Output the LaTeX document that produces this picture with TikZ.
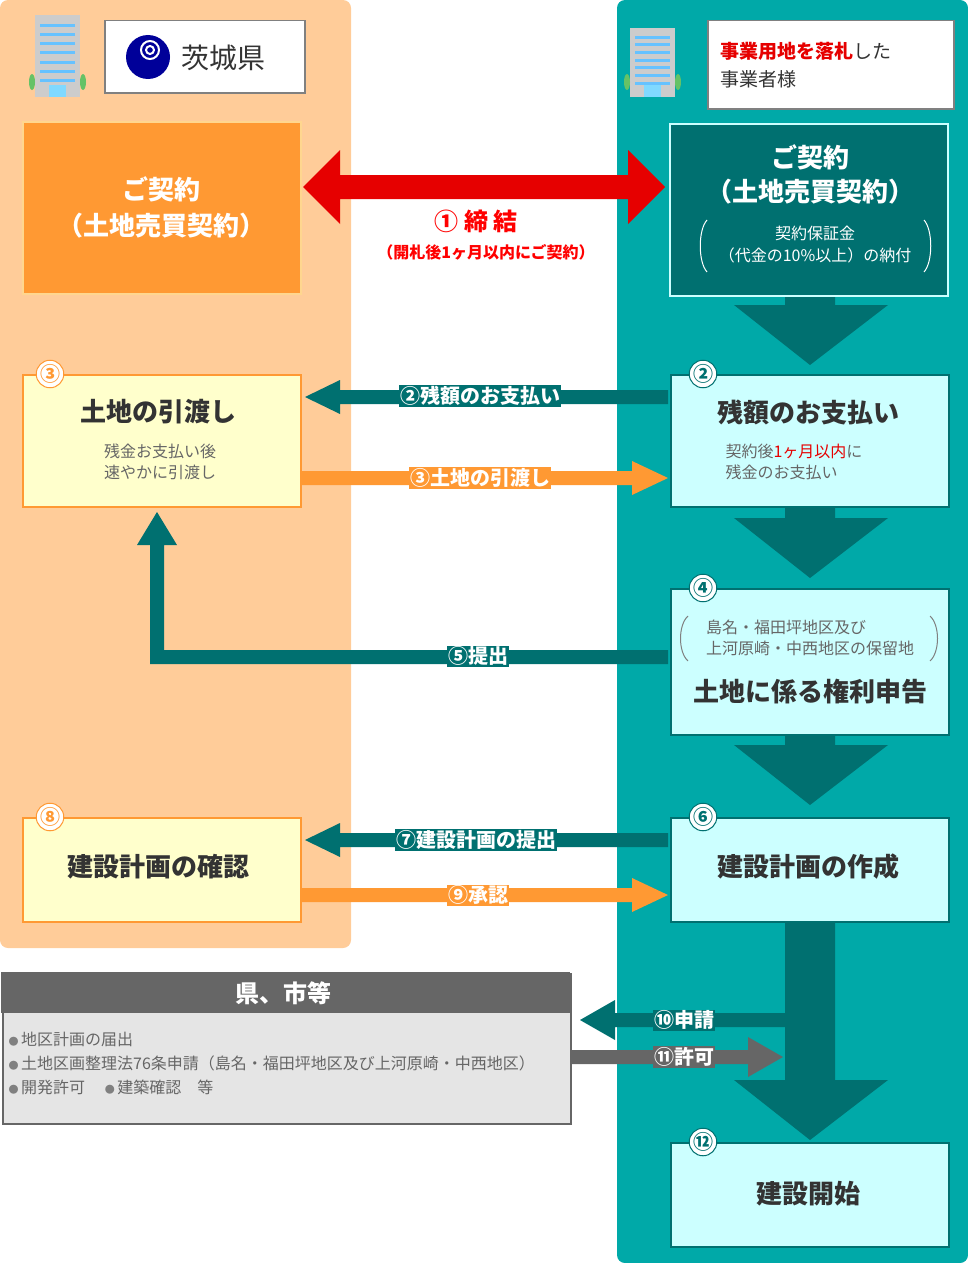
\documentclass[tikz,border=0pt]{standalone}
\usepackage{fontspec}
\setmainfont{Noto Sans CJK JP}
\usetikzlibrary{arrows.meta}
\definecolor{peach}{HTML}{FFCC99}
\definecolor{teal1}{HTML}{00A9A8}
\definecolor{teald}{HTML}{007070}
\definecolor{orng}{HTML}{FF9933}
\definecolor{lyel}{HTML}{FFFFCC}
\definecolor{lcyan}{HTML}{CCFFFF}
\definecolor{redt}{HTML}{E60000}
\definecolor{gry}{HTML}{666666}
\definecolor{txt}{HTML}{333333}
\tikzset{
 yelbox/.style={draw=orng,line width=2pt,fill=lyel,minimum width=278,anchor=north west,inner sep=0},
 cybox/.style={draw=teald,line width=2pt,fill=lcyan,minimum width=278,anchor=north west,inner sep=0},
 badge/.style={circle,fill=white,draw=#1,line width=1pt,text=#1,inner sep=0,minimum size=22,font=\fontsize{20}{20}\selectfont\bfseries},
 big/.style={font=\fontsize{26}{28}\selectfont\bfseries,text=txt},
 albl/.style={font=\fontsize{20}{22}\selectfont\bfseries,text=white},
}
\begin{document}
\begin{tikzpicture}[x=1pt,y=-1pt]
\useasboundingbox (0,0) rectangle (968,1263);
\fill[peach,rounded corners=8] (0,0) rectangle (351,948);
\fill[teal1,rounded corners=8] (617,0) rectangle (968,1263);
\foreach \ya/\yb in {295/365,507/578,735/805,920/1140}
 \fill[teald] (785,\ya) -- (835,\ya) -- (835,\yb-60) -- (888,\yb-60) -- (810,\yb) -- (734,\yb-60) -- (785,\yb-60) -- cycle;
\foreach \bx/\by/\bh in {35/15/82,630/28/69}{
 \fill[gray!40] (\bx,\by) rectangle (\bx+45,\by+\bh);
 \foreach \k in {1,...,7} \fill[blue!40!cyan!60] (\bx+5,\by+\k*\bh/9) rectangle (\bx+40,\by+\k*\bh/9+3);
 \fill[blue!30!cyan!50] (\bx+14,\by+\bh-12) rectangle (\bx+31,\by+\bh);
 \fill[green!60!black!60] (\bx-3,\by+\bh-15) ellipse (3 and 8);
 \fill[green!60!black!60] (\bx+48,\by+\bh-15) ellipse (3 and 8);
}
\node[draw=gray,line width=1.5pt,fill=white,minimum width=200,minimum height=72,anchor=north west] (ibk) at (104,20) {};
\fill[blue!60!black] (148,57) circle (22);
\draw[white,line width=2] (150,50) circle (9) (150,50) circle (4);
\node[anchor=west,font=\fontsize{28}{30}\selectfont,text=txt] (ibkt) at (178,58) {茨城県};
\node[draw=gray,line width=1.5pt,fill=white,minimum width=246,minimum height=88,anchor=north west,align=left,text width=220,font=\fontsize{19}{28}\selectfont,text=txt] (bidder) at (707,20) {\textcolor{redt}{\bfseries 事業用地を落札}した\\事業者様};
\node[draw=lyel!60!orng,line width=1.5pt,fill=orng,minimum width=278,minimum height=172,anchor=north west,align=center,font=\fontsize{26}{36}\selectfont\bfseries,text=white] (lc) at (22,121) {ご契約\\（土地売買契約）};
\node[draw=lcyan,line width=1.5pt,fill=teald,minimum width=278,minimum height=172,anchor=north west] (rc) at (669,123) {};
\node[align=center,font=\fontsize{26}{34}\selectfont\bfseries,text=white] (rct) at (810,174) {ご契約\\（土地売買契約）};
\node[align=center,font=\fontsize{16}{22}\selectfont,text=white] (rcs) at (815,245) {契約保証金\\（代金の10\%以上）の納付};
\draw[white,line width=1] (707,220) .. controls (698,230) and (698,262) .. (707,272);
\draw[white,line width=1] (924,220) .. controls (933,230) and (933,262) .. (924,272);
\fill[redt] (303,187) -- (340,150) -- (340,175) -- (628,175) -- (628,150) -- (665,187) -- (628,224) -- (628,199) -- (340,199) -- (340,224) -- cycle;
\node[font=\fontsize{24}{26}\selectfont\bfseries,text=red] (l1) at (476,221) {① 締 結};
\node[font=\fontsize{16}{18}\selectfont\bfseries,text=red] (l1b) at (486,252) {（開札後1ヶ月以内にご契約）};
\node[yelbox,minimum height=132] (b3) at (22,374) {};
\node[big] at (158,412) {土地の引渡し};
\node[align=left,font=\fontsize{16}{21}\selectfont,text=gry] at (160,462) {残金お支払い後\\速やかに引渡し};
\node[badge=orng] at (50,374) {③};
\node[cybox,minimum height=132] (b2) at (670,374) {};
\node[big] at (808,412) {残額のお支払い};
\node[align=left,font=\fontsize{16}{21}\selectfont,text=gry] at (794,462) {契約後\textcolor{redt}{1ヶ月以内}に\\残金のお支払い};
\node[badge=teald] at (703,374) {②};
\node[cybox,minimum height=146] (b4) at (670,588) {};
\node[align=left,font=\fontsize{16}{21}\selectfont,text=gry] at (810,638) {島名・福田坪地区及び\\上河原崎・中西地区の保留地};
\draw[gray,line width=1] (688,616) .. controls (678,625) and (678,652) .. (688,661);
\draw[gray,line width=1] (930,616) .. controls (940,625) and (940,652) .. (930,661);
\node[big] at (810,692) {土地に係る権利申告};
\node[badge=teald] at (703,588) {④};
\node[yelbox,minimum height=104] (b8) at (22,817) {};
\node[big] at (158,867) {建設計画の確認};
\node[badge=orng] at (50,817) {⑧};
\node[cybox,minimum height=104] (b6) at (670,817) {};
\node[big] at (808,867) {建設計画の作成};
\node[badge=teald] at (703,817) {⑥};
\node[cybox,minimum height=104] (b12) at (670,1142) {};
\node[big] at (808,1194) {建設開始};
\node[badge=teald] at (703,1142) {⑫};
\fill[teald] (668,390) -- (340,390) -- (340,380) -- (305,397) -- (340,414) -- (340,404) -- (668,404) -- cycle;
\node[albl,fill=teald,inner sep=1] at (480,396) {②残額のお支払い};
\fill[orng] (302,471) -- (632,471) -- (632,461) -- (668,478) -- (632,495) -- (632,485) -- (302,485) -- cycle;
\node[albl,fill=orng,inner sep=1] at (480,478) {③土地の引渡し};
\fill[teald] (668,650) -- (164,650) -- (164,545) -- (177,545) -- (157,512) -- (137,545) -- (150,545) -- (150,664) -- (668,664) -- cycle;
\node[albl,fill=teald,inner sep=1] at (478,656) {⑤提出};
\fill[teald] (668,833) -- (340,833) -- (340,823) -- (305,840) -- (340,857) -- (340,847) -- (668,847) -- cycle;
\node[albl,fill=teald,inner sep=1] at (476,840) {⑦建設計画の提出};
\fill[orng] (302,888) -- (632,888) -- (632,878) -- (668,895) -- (632,912) -- (632,902) -- (302,902) -- cycle;
\node[albl,fill=orng,inner sep=1] at (478,895) {⑨承認};
\node[draw=gry,line width=2pt,fill=gray!20,minimum width=568,minimum height=150,anchor=north west] (pref) at (2,973) {};
\fill[gry] (1,972) rectangle (570,1013);
\node[font=\fontsize{24}{26}\selectfont\bfseries,text=white] at (283,993) {県、市等};
\newcommand\bul{\textcolor{gray}{\fontsize{10}{10}\selectfont●}\,}
\node[anchor=north west,align=left,font=\fontsize{16}{24}\selectfont,text=gry] at (5,1029) {\bul 地区計画の届出\\\bul 土地区画整理法76条申請（島名・福田坪地区及び上河原崎・中西地区）\\\bul 開発許可\quad\ \bul 建築確認\quad 等};
\fill[teald] (785,1013) -- (615,1013) -- (615,1000) -- (580,1020) -- (615,1040) -- (615,1027) -- (785,1027) -- cycle;
\node[albl,fill=teald,inner sep=1] at (684,1020) {⑩申請};
\fill[gry] (570,1050) -- (748,1050) -- (748,1037) -- (783,1057) -- (748,1077) -- (748,1064) -- (570,1064) -- cycle;
\node[albl,fill=gry,inner sep=1] at (684,1057) {⑪許可};
\end{tikzpicture}
\end{document}
